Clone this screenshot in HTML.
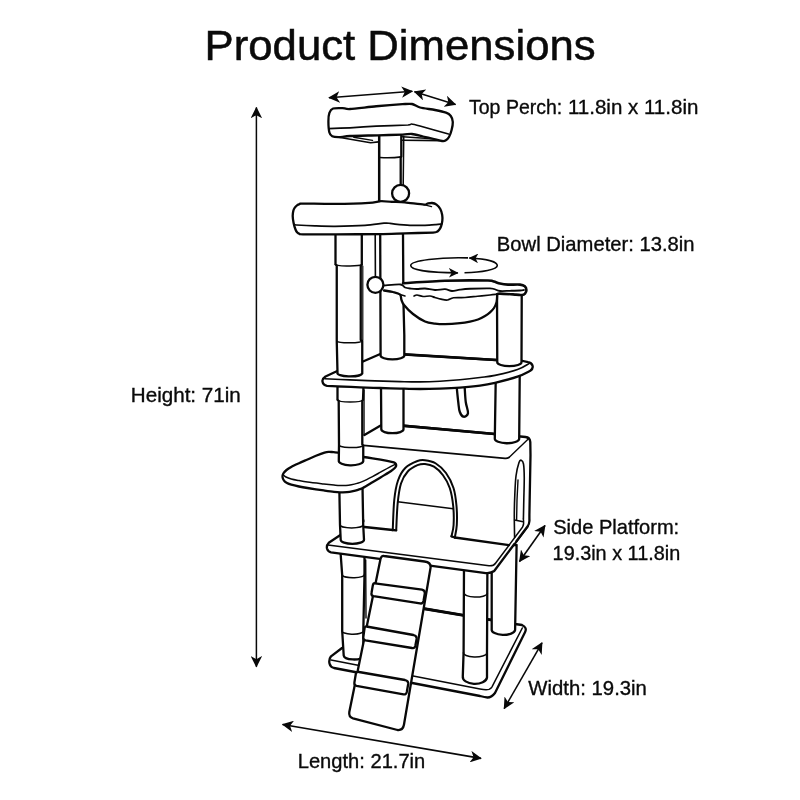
<!DOCTYPE html>
<html lang="en">
<head>
<meta charset="utf-8">
<title>Product Dimensions</title>
<style>
html,body{margin:0;padding:0;background:#fff;}
body{width:800px;height:800px;overflow:hidden;position:relative;}
svg{position:absolute;left:0;top:0;display:block;will-change:transform;}
text{font-family:"Liberation Sans",sans-serif;fill:#0a0a0a;stroke:#0a0a0a;stroke-width:0.35px;}
.o{fill:#fff;stroke:#080808;stroke-width:2.3;stroke-linejoin:round;stroke-linecap:round;}
.l{fill:none;stroke:#080808;stroke-width:2.3;stroke-linejoin:round;stroke-linecap:round;}
.m{fill:none;stroke:#080808;stroke-width:1.5;stroke-linejoin:round;stroke-linecap:round;}
.t{fill:none;stroke:#080808;stroke-width:1.4;stroke-linejoin:round;stroke-linecap:round;}
.w{fill:#fff;stroke:none;}
.a{fill:none;stroke:#080808;stroke-width:1.6;}
.h{fill:#080808;stroke:none;}
</style>
</head>
<body>
<svg width="800" height="800" viewBox="0 0 800 800">
<rect width="800" height="800" fill="#fff"/>
<g id="labels">
<text x="204.6" y="60.3" font-size="42.4" textLength="391" style="stroke-width:0.5px" lengthAdjust="spacingAndGlyphs">Product Dimensions</text>
<text x="469" y="113.8" font-size="20.6" textLength="93.3" lengthAdjust="spacingAndGlyphs">Top Perch:</text>
<text x="567.9" y="113.8" font-size="20.6" textLength="130.5" lengthAdjust="spacingAndGlyphs">11.8in x 11.8in</text>
<text x="496.8" y="251" font-size="20.6" textLength="197.8" lengthAdjust="spacingAndGlyphs">Bowl Diameter: 13.8in</text>
<text x="130.8" y="401.7" font-size="20.6" textLength="110" lengthAdjust="spacingAndGlyphs">Height: 71in</text>
<text x="553.2" y="533.8" font-size="20.6" textLength="126" lengthAdjust="spacingAndGlyphs">Side Platform:</text>
<text x="552.6" y="559.8" font-size="20.6" textLength="127.6" lengthAdjust="spacingAndGlyphs">19.3in x 11.8in</text>
<text x="528.3" y="694.9" font-size="20.6" textLength="118.6" lengthAdjust="spacingAndGlyphs">Width: 19.3in</text>
<text x="297.7" y="768.4" font-size="20.6" textLength="127.6" lengthAdjust="spacingAndGlyphs">Length: 21.7in</text>
</g>
<defs>
<marker id="ah" viewBox="0 0 11 11" refX="10.2" refY="5.5" markerWidth="11.5" markerHeight="11.5" markerUnits="userSpaceOnUse" orient="auto-start-reverse">
<path d="M0,0 L11,5.5 L0,11 L3,5.5 Z" fill="#080808"/>
</marker>
<marker id="ah2" viewBox="0 0 11 11" refX="10.2" refY="5.5" markerWidth="10" markerHeight="9.6" markerUnits="userSpaceOnUse" orient="auto-start-reverse">
<path d="M0,0 L11,5.5 L0,11 L3,5.5 Z" fill="#080808"/>
</marker>
</defs>
<g id="arrows" class="a">
<line x1="256.4" y1="107.6" x2="256.4" y2="666.7" stroke-width="1.5" marker-start="url(#ah)" marker-end="url(#ah)"/>
<line x1="282.6" y1="724.5" x2="481" y2="758.4" marker-start="url(#ah)" marker-end="url(#ah)"/>
<line x1="542" y1="642.8" x2="504.2" y2="708.6" marker-start="url(#ah)" marker-end="url(#ah)"/>
<line x1="545" y1="525.5" x2="519.5" y2="561.5" marker-start="url(#ah)" marker-end="url(#ah)"/>
<line x1="329" y1="97.8" x2="412.3" y2="91.3" marker-start="url(#ah)" marker-end="url(#ah)"/>
<line x1="414.5" y1="91.8" x2="455.5" y2="104.4" marker-start="url(#ah)" marker-end="url(#ah)"/>
<path d="M464.5,272.8 C482,272.3 497.3,269.5 497.3,265.5 C497.3,261.8 487,258.8 469.3,258" marker-end="url(#ah2)"/>
<path d="M468,257.9 C440,257.1 410.7,260.3 410.7,265.6 C410.7,270 430,272.8 457.8,272.9" marker-end="url(#ah2)"/>
</g>
<g id="tree">
<!-- base -->
<path class="w" d="M342,648 L331,656.3 Q328.6,659.5 329.5,663.5 Q330.3,667 334,668 L480,696 Q485,697.3 487.5,697.5 Q491.5,697.5 495,693 L525,632.3 Q527.5,627.5 522,625 L515,624 L361,600 Z"/>
<path class="l" d="M342,648 L331,656.3 Q328.6,659.5 329.5,663.5 Q330.3,667 334,668 L480,696 Q485,697.3 487.5,697.5 Q491.5,697.5 495,693 L525,632.3 Q527.5,627.5 522,625 L515,624 L420,608"/>
<path class="m" d="M331,660 L480,689 Q486,690.3 489,689.4 Q491,688.6 492,686.8 L522.3,628"/>
<path class="l" d="M420,608 L515,624" style="stroke-width:2.8"/>
<!-- post E -->
<path class="o" d="M491.7,545 L491.7,629.3 A11.7,5.2 0 0 0 515.1,630 L516.6,545 Z"/>
<!-- post D -->
<path class="o" d="M464,566 L463.6,652 L462.8,676.3 A12.1,7 0 0 0 487,677.5 L487,653 L487.4,566 Z"/>
<path class="m" d="M464.1,592.6 A11.7,4.1 0 0 0 487.4,593.4"/>
<path class="m" d="M463.5,652.5 A11.8,4 0 0 0 487,653.3"/>
<!-- post A4 -->
<path class="o" d="M340.5,552 L342.2,575 L342.2,631 L343.7,655.5 A10.2,4.3 0 0 0 363.6,656.5 L363.3,631.5 L364.5,575 L364.5,552 Z"/>
<path class="t" d="M365.7,560 L366,618"/>
<path class="m" d="M342.2,575 A11,3.1 0 0 0 364.3,574.3"/>
<path class="m" d="M342.2,630.8 A10.6,3 0 0 0 363.3,631.5"/>
<!-- platform 4 -->
<path class="o" d="M340,535.3 L328.8,542.8 Q326.3,545.5 327,548.5 Q327.8,551.5 331,552.3 L484,572.8 Q490.5,573.8 494.2,571 L516.25,541.5 L527.5,526.5 L529,520 L400,500 Z"/>
<path class="m" d="M328,545 L489,565.8 Q493.5,566.2 495.7,563 L512.9,540"/>
<!-- ramp -->
<path class="o" d="M384,556 L424.5,561.5 Q431,562.3 430.6,567.5 L404,724.5 Q403,730.5 397.5,730 L353,718.3 Q348.5,717 349.3,712 L380.5,559 Q381.5,555.5 384,556 Z"/>
<path class="o" d="M375,583.3 L422,589.6 Q425.3,590.3 424.8,593.5 L423.5,601 Q422.8,604 420,603.4 L373.5,596.2 Q371,595.5 371.5,593 L372.8,585.5 Q373.3,583 375,583.3 Z"/>
<path class="o" d="M366.5,626.5 L413.5,635 Q417,635.8 416.6,639 L415.3,646 Q414.6,648.6 412,648 L365.5,640.3 Q363,639.7 363.3,637.3 L364.5,628.5 Q365,626.2 366.5,626.5 Z"/>
<path class="o" d="M359,672 L405,680 Q408.6,680.8 408.2,684 L406.8,692 Q406,695 403.5,694.3 L356.5,685.8 Q354,685.2 354.4,682.5 L355.8,674 Q356.4,671.5 359,672 Z"/>
<!-- house -->
<path class="w" d="M363.5,435 L381.5,425 L404,425.75 L495,434 L526,437 Q530.5,437.5 530.8,442 L531,455 L529.4,515 L529.4,521 Q529.2,524.5 527.5,526.5 L516.25,541.5 L509,545.2 L364.5,527 Z"/>
<path class="l" d="M392.75,530 L364.5,527 M364.4,435 L381.5,425 L404,425.75 L495,434 L525.5,437 Q530,437.5 530.3,442 L530.5,455 L529.4,515 L529.4,521 Q529.2,524.5 527.5,526.5 L516.25,541.5"/>
<path class="l" d="M454.8,537.5 L509,545.2"/>
<path class="t" d="M509,545.2 L512.9,540 L522.6,527 Q524.3,524 523.4,519"/>
<path class="l" d="M363.5,445.3 L505,458.4 Q507.5,458.6 509,457.4" style="stroke-width:1.8"/>
<path class="t" d="M509,457.4 L528,439.3" style="stroke-width:1.4"/>
<path class="l" d="M404.5,425.8 L494.5,434" style="stroke-width:2.7"/>
<path class="l" d="M392.75,530 C393,525 393.38,508.25 394.25,500 C395.12,491.75 396.12,485.88 398,480.5 C399.88,475.12 402.25,471 405.5,467.75 C408.75,464.5 414.25,462.25 417.5,461 C420.75,459.75 422,459.88 425,460.25 C428,460.62 432,461.12 435.5,463.25 C439,465.38 443,468.88 446,473 C449,477.12 451.75,482.5 453.5,488 C455.25,493.5 455.95,499.83 456.5,506 C457.05,512.17 457.08,519.75 456.8,525 C456.52,530.25 455.13,535.42 454.8,537.5" style="stroke-width:2"/>
<path class="l" d="M396.2,530.3 C396.45,525.75 396.9,510.8 397.7,503 C398.5,495.2 399.32,488.75 401,483.5 C402.68,478.25 405,474.55 407.75,471.5 C410.5,468.45 414.62,466.45 417.5,465.2 C420.38,463.95 422.25,463.75 425,464 C427.75,464.25 431,464.82 434,466.7 C437,468.57 440.38,471.7 443,475.25 C445.62,478.8 448.05,482.88 449.75,488 C451.45,493.12 452.56,499.83 453.2,506 C453.84,512.17 453.88,519.95 453.6,525 C453.32,530.05 451.85,534.42 451.5,536.3" style="stroke-width:2"/>
<path class="m" d="M397.7,501.8 L453.2,508.7"/>
<path class="l" d="M392.75,530 L396.2,530.3 M451.5,536.3 L454.8,537.5"/>
<path class="t" d="M514.6,537.5 C514.55,533.75 514.27,522.08 514.3,515 C514.33,507.92 514.52,501.5 514.8,495 C515.08,488.5 515.3,481.42 516,476 C516.7,470.58 518.12,465.12 519,462.5 C519.88,459.88 520.5,460 521.25,460.25 C522,460.5 523,461.12 523.5,464 C524,466.88 524.2,471.5 524.25,477.5 C524.3,483.5 523.94,493.08 523.8,500 C523.66,506.92 523.47,515.83 523.4,519" style="stroke-width:1.6"/>
<path class="t" d="M514.5,520 L523.2,521.7"/>
<path class="t" d="M516.6,520.3 L517,500 L518,480"/>
<!-- post A3 -->
<path class="o" d="M339.3,486 L340,524.8 L340.7,539.7 A11.65,4.2 0 0 0 364,539.7 L363.2,524.8 L362.5,486 Z"/>
<path class="m" d="M340,524.8 A11.6,3.1 0 0 0 363.2,524.8"/>
<!-- side platform -->
<path class="o" d="M337.75,452.7 C332.67,451.88 334.52,452.25 333,452.1 C331.48,451.95 330.02,451.72 328.6,451.8 C327.18,451.88 326.6,451.93 324.5,452.6 C322.4,453.27 318.83,454.65 316,455.8 C313.17,456.95 310.33,458.27 307.5,459.5 C304.67,460.73 301.72,461.97 299,463.2 C296.28,464.43 293.28,465.77 291.2,466.9 C289.12,468.03 287.82,468.9 286.5,470 C285.18,471.1 283.97,472.37 283.3,473.5 C282.63,474.63 282.38,475.62 282.5,476.8 C282.62,477.98 283.25,479.57 284,480.6 C284.75,481.63 285.79,482.32 287,483 C288.21,483.68 289.25,484.12 291.25,484.7 C293.25,485.28 296.29,485.95 299,486.5 C301.71,487.05 303.38,487.35 307.5,488 C311.62,488.65 319.33,489.77 323.75,490.4 C328.17,491.03 331.29,491.48 334,491.8 C336.71,492.12 337.83,492.23 340,492.3 C342.17,492.37 344.83,492.38 347,492.2 C349.17,492.02 351.17,491.6 353,491.2 C354.83,490.8 356.38,490.33 358,489.8 C359.62,489.27 360.33,489.26 362.75,488 C365.17,486.74 369.54,484.02 372.5,482.25 C375.46,480.48 377.79,479.02 380.5,477.4 C383.21,475.77 386.63,473.85 388.75,472.5 C390.87,471.15 392.07,470.18 393.2,469.3 C394.32,468.42 395,467.92 395.5,467.2 C396,466.48 396.25,465.67 396.2,465 C396.15,464.33 395.77,463.68 395.2,463.2 C394.63,462.72 395.23,462.7 392.8,462.1 C390.37,461.5 385.48,460.45 380.6,459.6 C375.72,458.75 370.64,458.15 363.5,457 C356.36,455.85 342.83,453.52 337.75,452.7 Z"/>
<path class="m" d="M283.2,474.7 C283.67,475.08 284.66,476.28 286,477 C287.34,477.72 289.08,478.4 291.25,479 C293.42,479.6 296.29,480.1 299,480.6 C301.71,481.1 303.38,481.45 307.5,482 C311.62,482.55 319.33,483.4 323.75,483.9 C328.17,484.4 331.29,484.73 334,485 C336.71,485.27 338,485.43 340,485.5 C342,485.57 344.1,485.53 346,485.4 C347.9,485.27 349.57,485.03 351.4,484.7 C353.23,484.37 355.11,483.95 357,483.4 C358.89,482.85 360.17,482.53 362.75,481.4 C365.33,480.27 369.54,478.13 372.5,476.6 C375.46,475.07 377.79,473.7 380.5,472.2 C383.21,470.7 386.23,468.93 388.75,467.6 C391.27,466.27 394.46,464.77 395.6,464.2"/>
<!-- post A2 -->
<path class="o" d="M337.5,386 L337.5,399.75 L338.7,401 L339,444.75 L338.8,460.5 A12.2,4.4 0 0 0 363.25,461.25 L363.25,445.5 L362.3,444.5 L362.3,401 L363,399.75 L363.5,386 Z"/>
<path class="m" d="M337.5,399.75 A12.8,2.5 0 0 0 363,399.75"/>
<path class="m" d="M338.9,444.75 A12.2,2.4 0 0 0 363.25,445.5"/>
<path class="t" d="M364.1,390 L364.1,435" style="stroke-width:1.2"/>
<!-- post B2 -->
<path class="o" d="M381,386 L381.3,429.3 A11.1,3.9 0 0 0 403.5,429.3 L403.5,386 Z"/>
<!-- post C2 -->
<path class="o" d="M495.75,378 L494.8,438.5 A12.2,4.6 0 0 0 519.2,438.8 L519.75,372 Z"/>
<!-- toy -->
<path class="l" d="M456.75,387.75 C457,390.12 457.75,398 458.25,402 C458.75,406 458.88,409.3 459.75,411.75 C460.62,414.2 462.12,416.45 463.5,416.7 C464.88,416.95 467.62,415.7 468,413.25 C468.38,410.8 466.3,406.25 465.75,402 C465.2,397.75 464.88,390.12 464.7,387.75"/>
<!-- third platform -->
<path class="o" d="M336.75,371.25 L325.5,376.5 Q321.8,379 322.5,381.5 Q323,385 327,385.8  C328.75,385.88 332,386.05 337.5,386.3 C343,386.55 352.92,387.02 360,387.3 C367.08,387.58 373.33,387.78 380,388 C386.67,388.22 393.33,388.43 400,388.6 C406.67,388.77 413.33,389 420,389 C426.67,389 433.33,388.83 440,388.6 C446.67,388.37 453.33,388.1 460,387.6 C466.67,387.1 474.17,386.4 480,385.6 C485.83,384.8 488.75,384.28 495,382.8 C501.25,381.32 511.62,378.7 517.5,376.7 C523.38,374.7 528.12,371.78 530.25,370.8 Q533.5,368.5 532.5,365.5 Q531.5,362.8 528,362.2 L522,360.75 L496.5,360 L403.5,354.3 L380.25,354 L363,361.5 Z"/>
<path class="l" d="M404,354.3 L496,360" style="stroke-width:2.7"/>
<path class="m" d="M324.75,378.75 C328.96,378.94 341.62,379.54 350,379.9 C358.38,380.26 366.67,380.62 375,380.9 C383.33,381.18 392.5,381.43 400,381.6 C407.5,381.77 413.33,381.97 420,381.9 C426.67,381.83 433.33,381.57 440,381.2 C446.67,380.83 453.33,380.32 460,379.7 C466.67,379.08 474.17,378.22 480,377.5 C485.83,376.78 488.75,376.72 495,375.4 C501.25,374.08 511.83,371.57 517.5,369.6 C523.17,367.63 527.08,364.6 529,363.6" style="stroke-width:1.6"/>
<!-- post A -->
<path class="o" d="M335.5,233 L335.5,264.25 L336.75,265.5 L336.75,341.25 L337.5,372.75 A12.4,3.3 0 0 0 362.25,373.5 L362.25,341 L360.75,340 L360.75,266 L361.8,264.7 L361.8,233 Z"/>
<path class="m" d="M335.5,264.25 A13.2,1.5 0 0 0 361.8,264.7"/>
<path class="m" d="M336.75,341.25 A12.8,1.7 0 0 0 362.25,341"/>
<path class="t" d="M362.8,266 L362.8,340" style="stroke-width:1.2"/>
<!-- post B -->
<path class="o" d="M380.2,233 L380.6,355.5 A11.85,3.9 0 0 0 404.3,355.5 L404.3,335 L403.4,300 L403,233 Z"/>
<!-- post C -->
<path class="o" d="M497,290 L497.25,362.25 A12.1,3.9 0 0 0 521.5,362.25 L521.75,290 Z"/>
<!-- hammock -->
<path class="w" d="M384.5,285.5 L400.5,284.5 L403,283.2 L445,280.7 L488,280.5 L494,281.6 L500,283.6 L508,284.6 L520,284.6 L524.8,286.3 L526.4,290 L525,293.6 L522,295 L516,294.6 L500,293.6 L497.2,294.2 L496.6,302 L494,308 L490,312.3 L485,316 L478,319.5 L470,321.6 L460,323.2 L445,324.2 L435,323.6 L425,321.5 L413,314 L404,305 L401.5,300 L400,294.5 L393,292 L384,290.5 Z"/>
<path class="l" d="M403,283.2 C408.6,282.87 433.67,281.06 445,280.7 C456.33,280.34 481.47,280.38 488,280.5 C494.53,280.62 492.4,281.19 494,281.6 C495.6,282.01 498.13,283.2 500,283.6 C501.87,284 505.33,284.47 508,284.6 C510.67,284.73 517.76,284.37 520,284.6 C522.24,284.83 523.95,285.58 524.8,286.3 C525.65,287.02 526.37,289.03 526.4,290 C526.43,290.97 525.59,292.93 525,293.6 C524.41,294.27 523.2,294.87 522,295 C520.8,295.13 518.93,294.79 516,294.6 C513.07,294.41 502.51,293.65 500,293.6 C497.49,293.55 497.57,294.12 497.2,294.2" style="stroke-width:2.6"/>
<path class="l" d="M384.5,285.5 C387.17,285.33 397.08,284.17 400.5,284.5 C403.92,284.83 403.25,286.82 405,287.5 C406.75,288.18 409,288.35 411,288.6 C413,288.85 414.67,289.02 417,289 C419.33,288.98 422,288.33 425,288.5 C428,288.67 431.67,289.88 435,290 C438.33,290.12 442.17,289.03 445,289.2 C447.83,289.37 449.5,290.93 452,291 C454.5,291.07 457,289.98 460,289.6 C463,289.23 465,288.95 470,288.75 C475,288.55 486,288.36 490,288.4 C494,288.44 492.33,288.57 494,289 C495.67,289.43 497.33,290.7 500,291 C502.67,291.3 506.67,290.88 510,290.8 C513.33,290.72 517.67,290.63 520,290.5 C522.33,290.37 523.33,290.08 524,290" style="stroke-width:1.8"/>
<path class="l" d="M384,290.5 C385.5,290.75 390.33,291.33 393,292 C395.67,292.67 398.58,293.17 400,294.5 C401.42,295.83 400.83,298.25 401.5,300 C402.17,301.75 402.08,302.67 404,305 C405.92,307.33 409.5,311.25 413,314 C416.5,316.75 421.33,319.9 425,321.5 C428.67,323.1 431.67,323.15 435,323.6 C438.33,324.05 440.83,324.27 445,324.2 C449.17,324.13 455.83,323.63 460,323.2 C464.17,322.77 467,322.22 470,321.6 C473,320.98 475.5,320.43 478,319.5 C480.5,318.57 483,317.2 485,316 C487,314.8 488.5,313.63 490,312.3 C491.5,310.97 492.9,309.72 494,308 C495.1,306.28 496.07,304.3 496.6,302 C497.13,299.7 497.1,295.5 497.2,294.2"/>
<path class="l" d="M414,296 C414.5,295.83 415.5,294.92 417,295 C418.5,295.08 420.83,296.33 423,296.5 C425.17,296.67 428,295.83 430,296 C432,296.17 433.17,296.97 435,297.5 C436.83,298.03 438.92,298.78 441,299.2 C443.08,299.62 445.42,300.24 447.5,300 C449.58,299.76 450.58,298.17 453.5,297.75 C456.42,297.33 461,297.75 465,297.5 C469,297.25 473.33,296.67 477.5,296.25 C481.67,295.83 486.75,295.34 490,295 C493.25,294.66 495.83,294.33 497,294.2" style="stroke-width:1.7"/>
<path class="t" d="M400,294.5 L405,296"/>
<!-- ball 2 -->
<path class="l" d="M375.2,234 L375.4,277" style="stroke-width:1.6"/>
<circle class="o" cx="375.4" cy="284.8" r="8"/>
<!-- second perch -->
<path class="o" d="M303,203.6 C307.73,203.56 326.2,204.01 335,203.9 C343.8,203.79 362.87,203.16 369,202.8 C375.13,202.44 377.8,201.34 381,201.2 C384.2,201.06 389.8,201.59 393,201.75 C396.2,201.91 400.87,202.02 405,202.4 C409.13,202.78 421,204.44 424,204.6 C427,204.76 426.43,203.81 427.5,203.6 C428.57,203.39 430.8,202.87 432,203 C433.2,203.13 435.39,203.8 436.5,204.6 C437.61,205.4 439.54,207.61 440.3,209 C441.06,210.39 441.93,213.4 442.2,215 C442.47,216.6 442.46,219.47 442.3,221 C442.14,222.53 441.44,225.3 441,226.5 C440.56,227.7 439.6,229.27 439,230 C438.4,230.73 437.3,231.65 436.5,232 C435.7,232.35 437.2,232.43 433,232.6 C428.8,232.77 412.07,233.1 405,233.3 C397.93,233.5 389.2,233.97 380,234.1 C370.8,234.23 346.27,234.27 336,234.3 C325.73,234.33 307.87,234.35 303,234.3 C298.13,234.25 300.26,234.13 299.5,233.9 C298.74,233.67 297.83,233.19 297.3,232.6 C296.77,232.01 295.99,230.78 295.5,229.5 C295.01,228.22 293.97,224.8 293.6,223 C293.23,221.2 292.73,217.67 292.7,216 C292.67,214.33 293.12,211.62 293.4,210.5 C293.68,209.38 294.32,208.28 294.8,207.6 C295.28,206.92 296.37,205.85 297,205.4 C297.63,204.95 298.7,204.44 299.5,204.2 C300.3,203.96 298.27,203.64 303,203.6 Z"/>
<path class="l" d="M294,224.6 C294.33,224.65 293.7,224.83 296.5,225 C299.3,225.17 309.87,225.73 315,225.9 C320.13,226.07 328.33,226.37 335,226.3 C341.67,226.23 358.47,225.81 365,225.4 C371.53,224.99 380.67,223.48 384,223.2 C387.33,222.92 388.53,223.18 390,223.3 C391.47,223.42 392.33,223.83 395,224.1 C397.67,224.37 406,225.14 410,225.3 C414,225.46 421.53,225.39 425,225.3 C428.47,225.21 433.8,224.77 436,224.6 C438.2,224.43 440.77,224.08 441.5,224" style="stroke-width:1.7"/>
<path class="t" d="M424,204.6 L431.5,206.6"/>
<!-- top post -->
<path class="w" d="M378.9,134 L378.9,200 L400.7,200.5 L400.7,157 L401.3,156.5 L401.3,134 Z"/>
<path class="l" d="M379.2,134 L379.2,201" style="stroke-width:2.5"/>
<path class="l" d="M401.3,134 L401.3,156.5 L400.7,157 L400.7,186"/>
<path class="l" d="M380,157.5 Q391,158.2 401.3,156.9" style="stroke-width:1.6"/>
<path class="l" d="M403.75,136.25 L403.2,185" style="stroke-width:1.5"/>
<circle class="o" cx="400.6" cy="193.4" r="8.5"/>
<!-- top perch -->
<path class="l" d="M338.75,137.2 L370.6,142.8 L378.5,141.9" style="stroke-width:1.6"/>
<path class="t" d="M353.75,137.2 L372.5,140.4"/>
<path class="l" d="M402.5,140.2 L441.9,140.6" style="stroke-width:1.6"/>
<path class="t" d="M402.5,136.8 L436,139"/>
<path class="o" d="M333.1,108.5 C334.85,107.87 340.25,108.03 342.5,108.1 C344.75,108.17 345.5,109.25 350,109 C354.5,108.75 369.25,106.89 376.25,106.25 C383.25,105.61 397.73,104.5 402.5,104.2 C407.27,103.9 409.67,103.56 412,104 C414.33,104.44 416.93,106.7 420,107.5 C423.07,108.3 431.53,109.31 435,110 C438.47,110.69 443.89,111.9 446,112.7 C448.11,113.5 449.89,114.76 450.8,116 C451.71,117.24 452.69,120.13 452.8,122 C452.91,123.87 452.11,128 451.6,130 C451.09,132 449.81,135.59 449,137 C448.19,138.41 446.43,140.07 445.5,140.6 C444.57,141.13 443.53,141.21 442,141 C440.47,140.79 436.53,139.6 434,139 C431.47,138.4 425.93,137.17 423,136.5 C420.07,135.83 414.73,134.25 412,134 C409.27,133.75 407.03,134.43 402.5,134.6 C397.97,134.77 385,135.11 378,135.3 C371,135.49 355.23,135.75 350,136 C344.77,136.25 341.12,137.17 338.75,137.2 C336.38,137.23 333.45,136.88 332.2,136.25 C330.95,135.62 329.91,134.5 329.4,132.5 C328.89,130.5 328.4,123.88 328.4,121.25 C328.4,118.62 328.77,114.5 329.4,112.8 C330.03,111.1 331.35,109.13 333.1,108.5 Z"/>
<path class="l" d="M329,128.6 C331.1,128.52 345.27,128.04 350,127.8 C354.73,127.56 370.45,126.48 376.25,126.2 C382.05,125.92 404.48,125.22 408,125 C411.52,124.78 410.3,123.9 411.5,124 C412.7,124.1 416.3,125 420,126 C423.7,127 445.65,133.2 448.5,134" style="stroke-width:1.7"/>
</g>
</svg>
</body>
</html>
